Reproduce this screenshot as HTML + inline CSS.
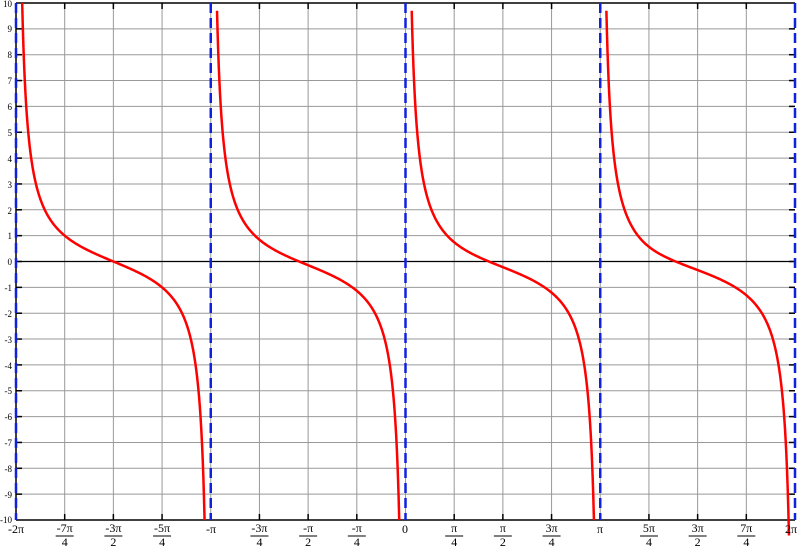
<!DOCTYPE html>
<html><head><meta charset="utf-8"><style>
body{margin:0;background:#fff}
svg text{font-family:"Liberation Serif",serif;fill:#000}
</style></head><body>
<svg id="s" width="800" height="548" xmlns="http://www.w3.org/2000/svg">
<g id="grid" stroke="#999" stroke-width="1"></g>
<g id="ticks" stroke="#000" stroke-width="1.5"></g>
<line x1="16" y1="261.5" x2="795" y2="261.5" stroke="#000" stroke-width="1.2"/>
<line x1="16" y1="3" x2="795" y2="3" stroke="#000" stroke-width="1.5"/>
<line x1="16" y1="520" x2="795" y2="520" stroke="#000" stroke-width="1.5"/>
<line x1="16" y1="3" x2="16" y2="520" stroke="#000" stroke-width="1.5"/>
<g id="asym" stroke="#1020e0" stroke-width="2.5" stroke-dasharray="10,5"></g>
<g id="curves" fill="none" stroke="#f00" stroke-width="2.5"></g>
<g font-size="9" text-anchor="end">
<text x="12" y="7">10</text><text x="12" y="32">9</text><text x="12" y="58">8</text><text x="12" y="84">7</text><text x="12" y="110">6</text><text x="12" y="136">5</text><text x="12" y="162">4</text><text x="12" y="188">3</text><text x="12" y="214">2</text><text x="12" y="239">1</text><text x="12" y="265">0</text><text x="12" y="291">-1</text><text x="12" y="317">-2</text><text x="12" y="343">-3</text><text x="12" y="369">-4</text><text x="12" y="394">-5</text><text x="12" y="420">-6</text><text x="12" y="446">-7</text><text x="12" y="472">-8</text><text x="12" y="498">-9</text><text x="12" y="523">-10</text>
</g>
<g font-size="12" text-anchor="middle">
<text x="16" y="533">-2π</text>
<text x="211" y="533">-π</text>
<text x="405" y="533">0</text>
<text x="600" y="533">π</text>
<text x="791" y="533">2π</text>
</g>
<g id="fr" font-size="12" text-anchor="middle"></g>
</svg>
<script>
var ns="http://www.w3.org/2000/svg";
function X(x){return 16+(x+2*Math.PI)/(4*Math.PI)*779;}
function Y(y){return 261.5-y*25.85;}
function el(p,t,a){var e=document.createElementNS(ns,t);for(var k in a)e.setAttribute(k,a[k]);document.getElementById(p).appendChild(e);return e;}
for(var i=1;i<16;i++){var x=16+i*779/16;el("grid","line",{x1:x,y1:3,x2:x,y2:520});el("ticks","line",{x1:x,y1:514,x2:x,y2:520});el("ticks","line",{x1:x,y1:3,x2:x,y2:9});}
for(var j=1;j<20;j++){var y=3+j*517/20;el("grid","line",{x1:16,y1:y,x2:795,y2:y});el("ticks","line",{x1:16,y1:y,x2:22,y2:y});el("ticks","line",{x1:789,y1:y,x2:795,y2:y});}
for(var k=0;k<5;k++){var x=16+k*779/4;el("asym","line",{x1:x,y1:3,x2:x,y2:520});}
var sh=[0,-9,-14,-22];
for(var b=0;b<4;b++){var a0=-2*Math.PI+b*Math.PI,d="";var e1=Math.atan(b==0?0.1:1/9.7),e2=Math.atan(b==3?1/10.6:0.1);var cen=a0+Math.PI/2;
for(var n=0;n<=300;n++){var t=a0+e1+(Math.PI-e1-e2)*n/300;var c=1/Math.tan(t);var u=t-cen;var w=sh[b]*Math.pow(Math.cos(u),2);d+=(n?"L":"M")+(X(t)+w).toFixed(2)+" "+Y(c).toFixed(2);}
el("curves","path",{d:d});}
var fr=[["-7π","4",1],["-3π","2",2],["-5π","4",3],["-3π","4",5],["-π","2",6],["-π","4",7],["π","4",9],["π","2",10],["3π","4",11],["5π","4",13],["3π","2",14],["7π","4",15]];
fr.forEach(function(f){var x=16+f[2]*779/16;var t=el("fr","text",{x:x,y:532});t.textContent=f[0];var t2=el("fr","text",{x:x,y:546});t2.textContent=f[1];el("fr","line",{x1:x-9,y1:536,x2:x+9,y2:536,stroke:"#000","stroke-width":1});});
</script>
</body></html>
